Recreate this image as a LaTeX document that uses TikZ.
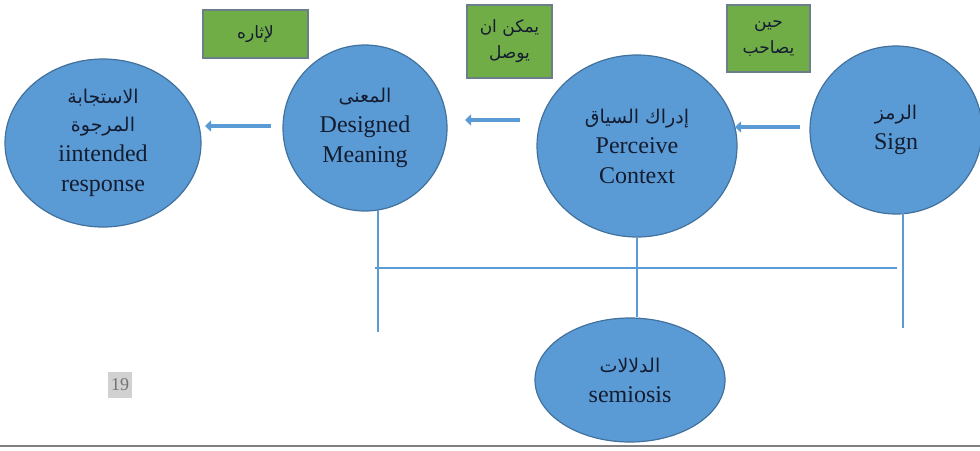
\documentclass[tikz,border=0pt]{standalone}
\usepackage{fontspec}
\setmainfont{Liberation Serif}
\newfontfamily\arabicfont[Script=Arabic]{DejaVu Sans}
\TeXXeTstate=1
\usetikzlibrary{shapes.geometric,arrows.meta}
\definecolor{cfill}{HTML}{5B9BD5}
\definecolor{cborder}{HTML}{41719C}
\definecolor{gfill}{HTML}{70AD47}
\definecolor{gborder}{HTML}{6A7F8A}
\definecolor{txt}{HTML}{141C30}
\newcommand{\arc}[1]{{\arabicfont\fontsize{19}{30}\selectfont\beginR #1\endR}}
\newcommand{\arb}[1]{\beginR #1\endR}
\begin{document}
\begin{tikzpicture}[x=1pt,y=-1pt,
  circ/.style={ellipse, fill=cfill, draw=cborder, line width=1.2pt, inner sep=0pt,
    align=center, text=txt, font=\fontsize{24}{30}\selectfont},
  gbox/.style={rectangle, fill=gfill, draw=gborder, line width=1.2pt, inner sep=0pt,
    align=center, text=txt, font=\arabicfont\fontsize{17}{26}\selectfont},
  link/.style={draw=cfill, line width=1.2pt},
  arr/.style={draw=cfill, line width=3.5pt, -{Triangle[width=11pt,length=6pt]}}]
\useasboundingbox (0,0) rectangle (980,450);
% circles
\node[circ, minimum width=196pt, minimum height=168pt] (resp) at (103,143)
  {\arc{الاستجابة}\\[-2pt] \arc{المرجوة}\\ iintended\\ response};
\node[circ, minimum width=164pt, minimum height=166pt] (mean) at (365,128)
  {\arc{المعنى}\\ Designed\\ Meaning};
\node[circ, minimum width=200pt, minimum height=182pt] (perc) at (637,146)
  {\arc{إدراك السياق}\\ Perceive\\ Context};
\node[circ, minimum width=172pt, minimum height=168pt] (sign) at (896,130)
  {\arc{الرمز}\\ Sign};
\node[circ, minimum width=190pt, minimum height=124pt] (semi) at (630,380)
  {\arc{الدلالات}\\ semiosis};
% green boxes
\node[gbox, minimum width=105pt, minimum height=48pt] (g1) at (255.5,34) {\arb{لإثاره}};
\node[gbox, minimum width=85pt, minimum height=73pt] (g2) at (509.5,41.5) {\arb{يمكن ان}\\ \arb{يوصل}};
\node[gbox, minimum width=83pt, minimum height=67pt] (g3) at (768.5,38.5) {\arb{حين}\\ \arb{يصاحب}};
% arrows
\coordinate (a1s) at (800,127); \coordinate (a1e) at (735,127);
\coordinate (a2s) at (520,120); \coordinate (a2e) at (465,120);
\coordinate (a3s) at (271,126); \coordinate (a3e) at (205,126);
\draw[arr] (a1s) -- (a1e);
\draw[arr] (a2s) -- (a2e);
\draw[arr] (a3s) -- (a3e);
% connector lines
\coordinate (m1) at (378,332);
\coordinate (s1) at (903,328);
\coordinate (hl) at (375,268);
\coordinate (hr) at (897,268);
\draw[link] (mean.south -| m1) ++(0,-2) -- (m1);
\draw[link] (sign.south -| s1) ++(0,-2) -- (s1);
\draw[link] (hl) -- (hr);
\draw[link] (perc.south) -- (perc.south |- semi.north);
% page number
\node[fill=black!18, text=black!55, inner sep=2pt, minimum width=24pt, minimum height=26pt, font=\fontsize{18}{18}\selectfont] (pg) at (120,385) {19};
% bottom rule
\coordinate (bl) at (0,446); \coordinate (br) at (980,446);
\draw[black!50, line width=2pt] (bl) -- (br);
\end{tikzpicture}
\end{document}
